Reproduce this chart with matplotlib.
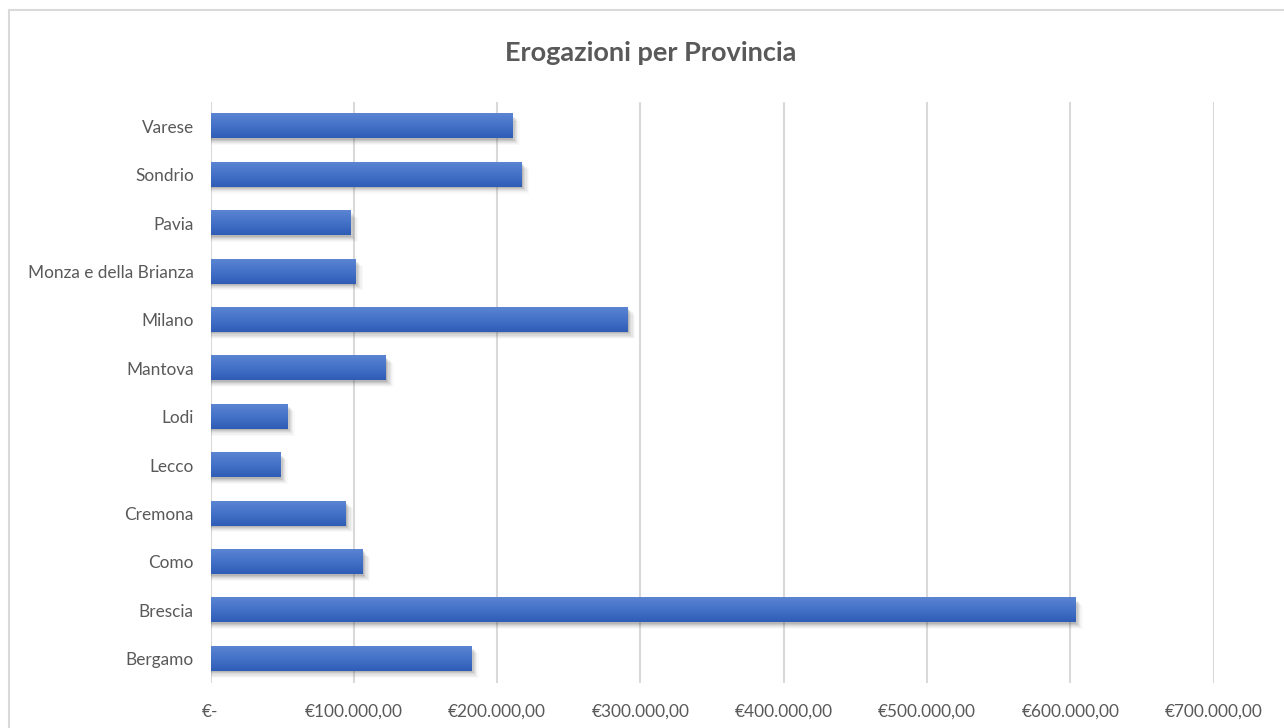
import numpy as np
import matplotlib.pyplot as plt
from matplotlib.patches import Rectangle
from matplotlib.colors import LinearSegmentedColormap
from matplotlib.ticker import FuncFormatter

province = ['Bergamo', 'Brescia', 'Como', 'Cremona', 'Lecco', 'Lodi', 'Mantova',
            'Milano', 'Monza e della Brianza', 'Pavia', 'Sondrio', 'Varese']
erogazioni = [181500, 602900, 105700, 93900, 48200, 53100, 122000,
              290700, 100600, 97100, 216600, 210100]
x_ticks = [0, 100000, 200000, 300000, 400000, 500000, 600000, 700000]


def euro(v, pos=None):
    if v == 0:
        return '€-'
    s = f'{v:,.2f}'.replace(',', 'X').replace('.', ',').replace('X', '.')
    return '€' + s


def main():
    plt.rcParams['font.family'] = ['Lato', 'DejaVu Sans']
    fig = plt.figure(figsize=(12.84, 7.28), dpi=100)
    fig.patch.set_facecolor('white')

    # outer chart frame, runs off the right and bottom edges
    fig.patches.append(Rectangle((9 / 1284, -0.05), 1.2, 1 - 10 / 728 + 0.05,
                                 transform=fig.transFigure, fill=False,
                                 edgecolor='#d9d9d9', lw=1.5, zorder=0))

    ax = fig.add_axes([210.5 / 1284, 1 - 683 / 728, (1213.7 - 210.5) / 1284, 581 / 728])

    cmap = LinearSegmentedColormap.from_list('bar', ['#5b84d2', '#4472c8', '#2f5db6'])
    grad = np.linspace(0, 1, 64).reshape(-1, 1)
    h = 0.5
    for i, v in enumerate(erogazioni):
        # soft drop shadow below/right of each bar
        for k, a in enumerate([0.12, 0.10, 0.08, 0.06, 0.04, 0.03]):
            dx = 1200 + k * 900
            dy = 0.03 + k * 0.022
            ax.add_patch(Rectangle((0, i - h / 2 - dy), v + dx, h,
                                   facecolor='#404040', edgecolor='none',
                                   alpha=a, zorder=2))
        ax.imshow(grad, cmap=cmap, aspect='auto', interpolation='bilinear',
                  extent=(0, v, i - h / 2, i + h / 2), zorder=3)
    ax.set_xlim(0, 700000)
    ax.set_ylim(-0.5, len(province) - 0.5)

    ax.set_yticks(range(len(province)))
    ax.set_yticklabels(province)
    ax.set_xticks(x_ticks)
    ax.xaxis.set_major_formatter(FuncFormatter(euro))
    ax.tick_params(axis='both', length=0, labelsize=12.4, labelcolor='#595959')
    ax.tick_params(axis='y', pad=12)
    ax.tick_params(axis='x', pad=15)

    ax.grid(axis='x', color='#d9d9d9', lw=1.5, zorder=1)
    ax.set_axisbelow(True)
    for s in ax.spines.values():
        s.set_visible(False)

    fig.text(651 / 1284, 1 - 53 / 728, 'Erogazioni per Provincia', ha='center',
             va='center', fontsize=19.5, fontweight='bold', color='#595959')

    fig.savefig('out.png', dpi=100)


if __name__ == '__main__':
    main()
